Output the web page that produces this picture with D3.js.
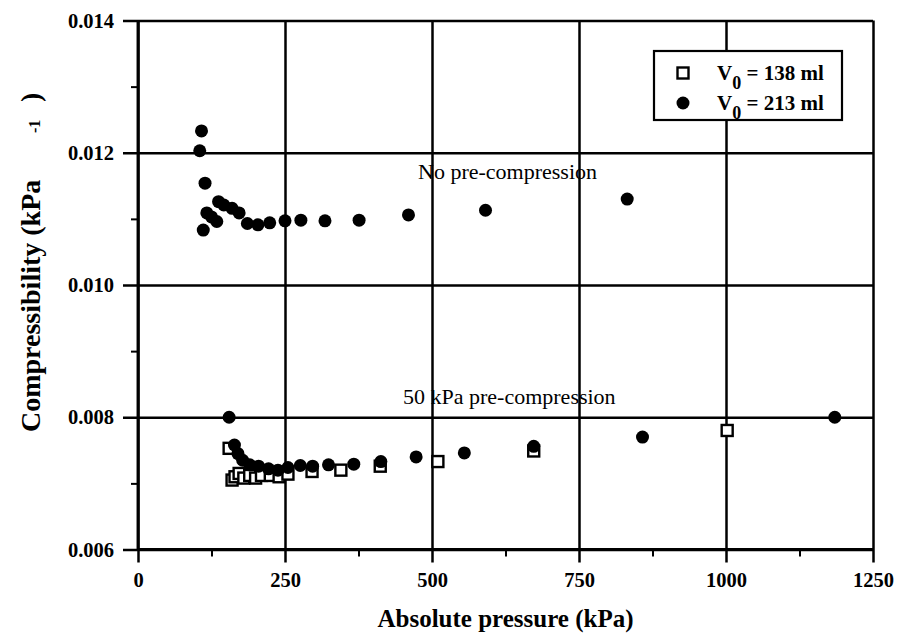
<!DOCTYPE html>
<html>
<head>
<meta charset="utf-8">
<script src="https://cdn.jsdelivr.net/npm/d3@7"></script>
<style>
  body { margin: 0; background: #fff; }
  svg { display: block; }
  text { font-family: "Liberation Serif", "Times New Roman", serif; fill: #000; }
</style>
</head>
<body>
<svg id="chart" width="899" height="635"></svg>
<script>
// Axis ticks
const xTicks = [0, 250, 500, 750, 1000, 1250];
const xMinor = [125, 375, 625, 875, 1125];
const yTicks = [0.006, 0.008, 0.010, 0.012, 0.014];
const yMinor = [0.007, 0.009, 0.011, 0.013];

// V0 = 213 ml, no pre-compression (kPa, kPa^-1)
const noPrePressure = [105, 108, 114, 111, 117, 125, 134, 137, 146, 160, 172, 186, 204, 224, 250, 277, 318, 376, 460, 591, 832];
const noPreCompr    = [0.01203, 0.01233, 0.01154, 0.01083, 0.01109, 0.01103, 0.01096, 0.01126, 0.01121, 0.01116, 0.01109,
                       0.01093, 0.01091, 0.01094, 0.01097, 0.01098, 0.01097, 0.01098, 0.01106, 0.01113, 0.01130];

// V0 = 138 ml, 50 kPa pre-compression
const pre138Pressure = [155, 160, 165, 172, 180, 190, 200, 210, 225, 240, 255, 296, 345, 412, 510, 673, 1002];
const pre138Compr    = [0.00753, 0.00705, 0.00710, 0.00715, 0.00708, 0.00712, 0.00708, 0.00712, 0.00712, 0.00710,
                        0.00714, 0.00718, 0.00720, 0.00726, 0.00733, 0.00749, 0.00780];

// V0 = 213 ml, 50 kPa pre-compression
const pre213Pressure = [155, 164, 170, 178, 190, 205, 222, 238, 255, 276, 297, 324, 367, 413, 473, 555, 673, 858, 1185];
const pre213Compr    = [0.00800, 0.00758, 0.00745, 0.00735, 0.00728, 0.00726, 0.00722, 0.00720, 0.00724, 0.00727,
                        0.00726, 0.00728, 0.00729, 0.00733, 0.00740, 0.00746, 0.00756, 0.00770, 0.00800];

const legendLabels = ["138 ml", "213 ml"];

const svg = d3.select("#chart");
const margin = { top: 20.5, right: 26, bottom: 85.5, left: 138 };
const W = 899 - margin.left - margin.right;
const H = 635 - margin.top - margin.bottom;

const x = d3.scaleLinear().domain([0, 1250]).range([0, W]);
const y = d3.scaleLinear().domain([0.006, 0.014]).range([H, 0]);

const g = svg.append("g").attr("transform", `translate(${margin.left},${margin.top})`);

const lineW = 2.5;

// Left axis: major ticks extended into full gridlines
const yAxis = g.append("g")
  .call(d3.axisLeft(y).tickValues(yTicks).tickFormat(d3.format(".3f")).tickSizeInner(15).tickSizeOuter(0).tickPadding(9));
yAxis.select(".domain").remove();
yAxis.selectAll(".tick line").attr("x1", W).attr("stroke", "#000").attr("stroke-width", lineW);
yAxis.selectAll(".tick text").attr("font-size", 20.5).attr("font-weight", "bold");

// Bottom axis: major ticks extended into full gridlines
const xAxis = g.append("g").attr("transform", `translate(0,${H})`)
  .call(d3.axisBottom(x).tickValues(xTicks).tickFormat(d3.format("d")).tickSizeInner(13).tickSizeOuter(0).tickPadding(10));
xAxis.select(".domain").remove();
xAxis.selectAll(".tick line").attr("y1", -H).attr("stroke", "#000").attr("stroke-width", lineW);
xAxis.selectAll(".tick text").attr("font-size", 20.5).attr("font-weight", "bold");

// Minor ticks
g.append("g").call(d3.axisLeft(y).tickValues(yMinor).tickSize(7).tickFormat(""))
  .call(a => a.select(".domain").remove())
  .selectAll("line").attr("stroke", "#000").attr("stroke-width", 2);
g.append("g").attr("transform", `translate(0,${H})`)
  .call(d3.axisBottom(x).tickValues(xMinor).tickSize(7).tickFormat(""))
  .call(a => a.select(".domain").remove())
  .selectAll("line").attr("stroke", "#000").attr("stroke-width", 2);

// Axis lines
g.append("line").attr("x1", x(0)).attr("x2", x(0)).attr("y1", 0).attr("y2", H)
  .attr("stroke", "#000").attr("stroke-width", lineW + 0.4);
g.append("line").attr("x1", x(0)).attr("x2", W).attr("y1", y(0.006)).attr("y2", y(0.006))
  .attr("stroke", "#000").attr("stroke-width", lineW + 0.4);

// Annotations
svg.append("text").attr("x", 418).attr("y", 179)
  .attr("font-size", 22).text("No pre-compression");
svg.append("text").attr("x", 403).attr("y", 404)
  .attr("font-size", 22).text("50 kPa pre-compression");

// Markers
const R = 6.5, S = 11;
const sq = d3.zip(pre138Pressure, pre138Compr);
g.append("g").selectAll("rect").data(sq).join("rect")
  .attr("x", d => x(d[0]) - S / 2).attr("y", d => y(d[1]) - S / 2)
  .attr("width", S).attr("height", S)
  .attr("fill", "#fff").attr("stroke", "#000").attr("stroke-width", 2.4);

const circ = d3.zip(noPrePressure, noPreCompr).concat(d3.zip(pre213Pressure, pre213Compr));
g.append("g").selectAll("circle").data(circ).join("circle")
  .attr("cx", d => x(d[0])).attr("cy", d => y(d[1])).attr("r", R).attr("fill", "#000");

// Legend
const lg = svg.append("g").attr("transform", "translate(654,51)");
lg.append("rect").attr("width", 188).attr("height", 69).attr("fill", "#fff")
  .attr("stroke", "#000").attr("stroke-width", 2.2);
lg.append("rect").attr("x", 29 - S / 2).attr("y", 22 - S / 2).attr("width", S).attr("height", S)
  .attr("fill", "#fff").attr("stroke", "#000").attr("stroke-width", 2.4);
lg.append("circle").attr("cx", 29).attr("cy", 52).attr("r", R).attr("fill", "#000");
legendLabels.forEach((lab, i) => {
  const t = lg.append("text").attr("x", 63).attr("y", 29 + i * 30)
    .attr("font-size", 21).attr("font-weight", "bold");
  t.append("tspan").text("V");
  t.append("tspan").attr("font-size", 18).attr("dy", 9).text("0");
  t.append("tspan").attr("dy", -9).text(" = " + lab);
});

// Axis titles
svg.append("text").attr("x", margin.left + W / 2).attr("y", 627).attr("text-anchor", "middle")
  .attr("font-size", 25).attr("font-weight", "bold").text("Absolute pressure (kPa)");

svg.append("text").attr("transform", "translate(40,432) rotate(-90)")
  .attr("font-size", 28).attr("font-weight", "bold").text("Compressibility (kPa");
svg.append("text").attr("transform", "translate(40,133) rotate(-90)")
  .attr("font-size", 16).attr("font-weight", "bold").text("-1");
svg.append("text").attr("transform", "translate(40,102) rotate(-90)")
  .attr("font-size", 28).attr("font-weight", "bold").text(")");
</script>
</body>
</html>
